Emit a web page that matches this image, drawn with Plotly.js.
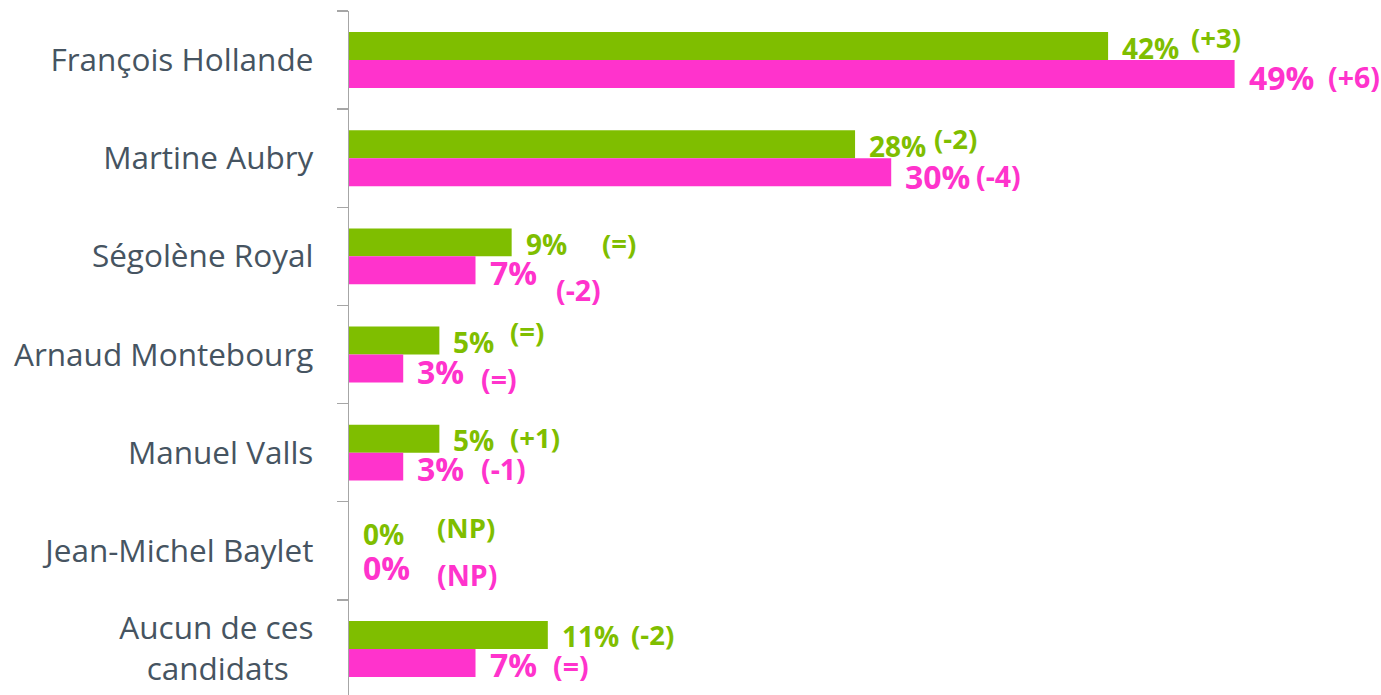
<!DOCTYPE html>
<html>
<head>
<meta charset="utf-8">
<script src="https://cdn.plot.ly/plotly-3.0.1.min.js"></script>
<style>html,body{margin:0;padding:0;background:#fff;overflow:hidden;}#chart{width:1381px;height:698px;}</style>
</head>
<body>
<div id="chart"></div>
<script>
// ---- data ----
const candidates = ["François Hollande", "Martine Aubry", "Ségolène Royal", "Arnaud Montebourg", "Manuel Valls", "Jean-Michel Baylet", "Aucun de ces candidats"];
const tickLabels = ["François Hollande", "Martine Aubry", "Ségolène Royal", "Arnaud Montebourg", "Manuel Valls", "Jean-Michel Baylet", "Aucun de ces<br>candidats&nbsp;&nbsp;&nbsp;"];
const greenValues = [42, 28, 9, 5, 5, 0, 11];
const pinkValues = [49, 30, 7, 3, 3, 0, 7];
const greenChanges = ["(+3)", "(-2)", "(=)", "(=)", "(+1)", "(NP)", "(-2)"];
const pinkChanges = ["(+6)", "(-4)", "(-2)", "(=)", "(-1)", "(NP)", "(=)"];

// ---- label placement tweaks (pixels) ----
const gValDy = [-12, -12, -12, -13, -13, -17, -13];
const gChgDx = [84, 80, 91, 72, 72, 89, 84];
const gChgDy = [-23, -20, -13, -23, -15, -23, -14];
const pValDy = [17, 18, 16, 17, 16, 17, 16];
const pChgDx = [94, 86, 81, 79, 79, 89, 78];
const pChgDy = [17, 18, 34, 24, 16, 24, 17];

const GREEN = "#7fbe00";
const PINK = "#ff33cc";
const FONT = "Open Sans, Lato, sans-serif";

const traces = [
  {type: "bar", orientation: "h", y: candidates, x: greenValues, marker: {color: GREEN}, name: "A", hoverinfo: "x+y"},
  {type: "bar", orientation: "h", y: candidates, x: pinkValues, marker: {color: PINK}, name: "B", hoverinfo: "x+y"}
];

function lbl(x, y, text, dx, dy, size, color) {
  return {x: x, y: y, xref: "x", yref: "y", text: "<b>" + text + "</b>",
    showarrow: false, xanchor: "left", yanchor: "middle", xshift: dx, yshift: -dy,
    borderpad: 0,
    font: {family: FONT, size: size, color: color}};
}

const annotations = [];
candidates.forEach((c, i) => {
  annotations.push(lbl(greenValues[i], c, greenValues[i] + "%", 13, gValDy[i], 28, GREEN));
  annotations.push(lbl(greenValues[i], c, greenChanges[i], gChgDx[i] - 2, gChgDy[i], 27.5, GREEN));
  annotations.push(lbl(pinkValues[i], c, pinkValues[i] + "%", 13, pValDy[i], 32, PINK));
  annotations.push(lbl(pinkValues[i], c, pinkChanges[i], pChgDx[i] - 2, pChgDy[i], 28.5, PINK));
});

const layout = {
  width: 1381, height: 698,
  margin: {l: 349, r: 0, t: 11, b: 0},
  paper_bgcolor: "#ffffff", plot_bgcolor: "#ffffff",
  showlegend: false,
  barmode: "group", bargap: 0.43, bargroupgap: 0,
  xaxis: {range: [0, 57.1], visible: false, showgrid: false, zeroline: false, fixedrange: true},
  yaxis: {
    type: "category", autorange: "reversed",
    tickmode: "array", tickvals: candidates, ticktext: tickLabels,
    tickson: "boundaries", ticks: "outside", ticklen: 11, tickcolor: "#a6a6a6", tickwidth: 1.3,
    showline: true, linecolor: "#a6a6a6", linewidth: 1.3,
    showgrid: false, zeroline: false,
    ticklabelstandoff: 28,
    tickfont: {family: FONT, size: 31.5, color: "#465461"}
  },
  annotations: annotations,
  font: {family: FONT}
};

Plotly.newPlot("chart", traces, layout, {displayModeBar: false, staticPlot: true});
</script>
</body>
</html>
